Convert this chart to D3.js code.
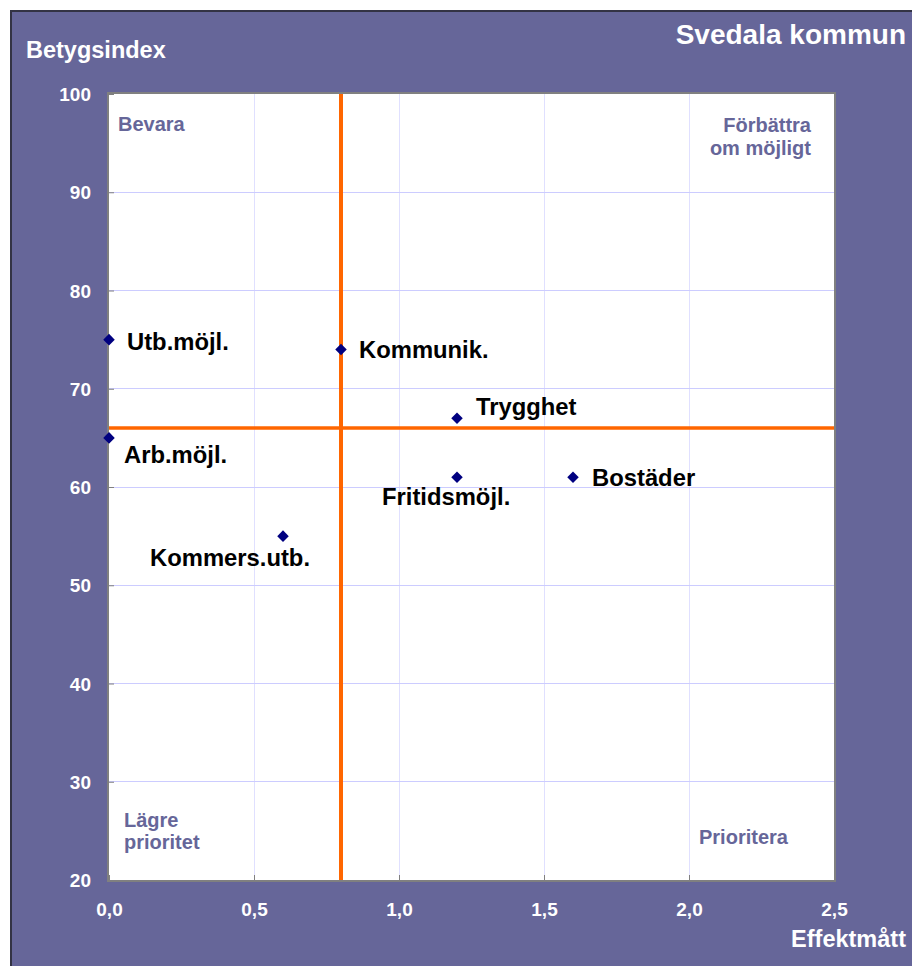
<!DOCTYPE html>
<html>
<head>
<meta charset="utf-8">
<script src="https://cdn.jsdelivr.net/npm/d3@7"></script>
<style>
  html, body { margin: 0; padding: 0; background: #ffffff; }
  svg { display: block; }
  text { font-family: "Liberation Sans", Arial, sans-serif; font-weight: bold; }
</style>
</head>
<body>
<svg id="chart" width="912" height="966"></svg>
<script>
// ---- Data ----
const categories = ["Utb.möjl.", "Kommunik.", "Trygghet", "Arb.möjl.", "Fritidsmöjl.", "Bostäder", "Kommers.utb."];
const effektmatt = [0.0, 0.8, 1.2, 0.0, 1.2, 1.6, 0.6];
const betygsindex = [75, 74, 67, 65, 61, 61, 55];
const xTicks = [0, 0.5, 1.0, 1.5, 2.0, 2.5];
const yTicks = [20, 30, 40, 50, 60, 70, 80, 90, 100];
const refX = 0.8;   // vertical reference line (mean effektmått)
const refY = 66;    // horizontal reference line (mean betygsindex)
const title = "Svedala kommun";
const yTitle = "Betygsindex";
const xTitle = "Effektmått";

// ---- Layout / styles ----
const W = 912, H = 966;
const plot = { left: 109, right: 834, top: 94, bottom: 880 };
const purple = "#666699";
// label placement relative to marker (dx, baseline dy)
const labelPos = [[18, 10], [18, 9], [19, -3], [15, 25], [-75, 28], [19, 9], [-133, 30]];

const svg = d3.select("#chart");
const x = d3.scaleLinear().domain([0, 2.5]).range([plot.left, plot.right]);
const y = d3.scaleLinear().domain([20, 100]).range([plot.bottom, plot.top]);
const fmt = d3.formatLocale({ decimal: ",", thousands: " ", grouping: [3], currency: ["", " kr"] }).format(".1f");

// outer background
svg.append("rect").attr("x", 11).attr("y", 11).attr("width", W - 11).attr("height", H - 11).attr("fill", purple);
svg.append("path").attr("d", `M11,${H} L11,11 L${W},11`).attr("fill", "none").attr("stroke", "#333344").attr("stroke-width", 2);

// plot area
svg.append("rect").attr("x", plot.left).attr("y", plot.top)
  .attr("width", plot.right - plot.left).attr("height", plot.bottom - plot.top).attr("fill", "#ffffff");

// grid
svg.append("g").selectAll("line").data(xTicks.slice(1, -1)).join("line")
  .attr("x1", d => x(d)).attr("x2", d => x(d)).attr("y1", plot.top).attr("y2", plot.bottom)
  .attr("stroke", "#e0e0ff").attr("stroke-width", 1).attr("shape-rendering", "crispEdges");
svg.append("g").selectAll("line").data(yTicks.slice(1, -1)).join("line")
  .attr("x1", plot.left).attr("x2", plot.right).attr("y1", d => y(d)).attr("y2", d => y(d))
  .attr("stroke", "#ccccff").attr("stroke-width", 1).attr("shape-rendering", "crispEdges");

// axes (inner ticks)
const xAxis = svg.append("g").attr("transform", `translate(0,${plot.bottom})`)
  .call(d3.axisBottom(x).tickValues(xTicks).tickSize(-5).tickPadding(18).tickFormat(fmt));
const yAxis = svg.append("g").attr("transform", `translate(${plot.left},0)`)
  .call(d3.axisLeft(y).tickValues(yTicks).tickSize(-5).tickPadding(18).tickFormat(d3.format("d")));
[xAxis, yAxis].forEach(g => {
  g.select(".domain").remove();
  g.selectAll(".tick line").attr("stroke", "#808080").attr("stroke-width", 1);
  g.selectAll(".tick text").attr("fill", "#ffffff").attr("font-size", 19)
    .attr("font-family", "'Liberation Sans', Arial, sans-serif").attr("font-weight", "bold");
});
xAxis.selectAll(".tick text").attr("dy", "0.95em");
yAxis.selectAll(".tick text").attr("dy", "0.35em");

// plot border
svg.append("rect").attr("x", plot.left - 1).attr("y", plot.top - 1)
  .attr("width", plot.right - plot.left + 2).attr("height", plot.bottom - plot.top + 2)
  .attr("fill", "none").attr("stroke", "#808080").attr("stroke-width", 2);

// reference lines
svg.append("line").attr("x1", x(refX)).attr("x2", x(refX)).attr("y1", plot.top).attr("y2", plot.bottom)
  .attr("stroke", "#ff6600").attr("stroke-width", 4);
svg.append("line").attr("x1", plot.left).attr("x2", plot.right).attr("y1", y(refY)).attr("y2", y(refY))
  .attr("stroke", "#ff6600").attr("stroke-width", 3.5);

// quadrant labels
const q = svg.append("g").attr("fill", purple).attr("font-size", 20);
q.append("text").attr("x", 118).attr("y", 131).text("Bevara");
q.append("text").attr("x", 811).attr("y", 132).attr("text-anchor", "end").text("Förbättra");
q.append("text").attr("x", 811).attr("y", 155).attr("text-anchor", "end").text("om möjligt");
q.append("text").attr("x", 124).attr("y", 827).text("Lägre");
q.append("text").attr("x", 124).attr("y", 849).text("prioritet");
q.append("text").attr("x", 699).attr("y", 844).text("Prioritera");

// points
const pts = categories.map((c, i) => ({ c, x: effektmatt[i], y: betygsindex[i], p: labelPos[i] }));
svg.append("g").selectAll("path").data(pts).join("path")
  .attr("transform", d => `translate(${x(d.x)},${y(d.y)})`)
  .attr("d", d3.symbol().type(d3.symbolDiamond2).size(85))
  .attr("fill", "#000080");
svg.append("g").selectAll("text").data(pts).join("text")
  .attr("x", d => x(d.x) + d.p[0]).attr("y", d => y(d.y) + d.p[1])
  .attr("font-size", 23.8).attr("fill", "#000000").text(d => d.c);

// titles
svg.append("text").attr("x", 906).attr("y", 44).attr("text-anchor", "end")
  .attr("font-size", 28).attr("fill", "#ffffff").text(title);
svg.append("text").attr("x", 26).attr("y", 58)
  .attr("font-size", 23.5).attr("fill", "#ffffff").text(yTitle);
svg.append("text").attr("x", 906).attr("y", 947).attr("text-anchor", "end")
  .attr("font-size", 23.5).attr("fill", "#ffffff").text(xTitle);
</script>
</body>
</html>
